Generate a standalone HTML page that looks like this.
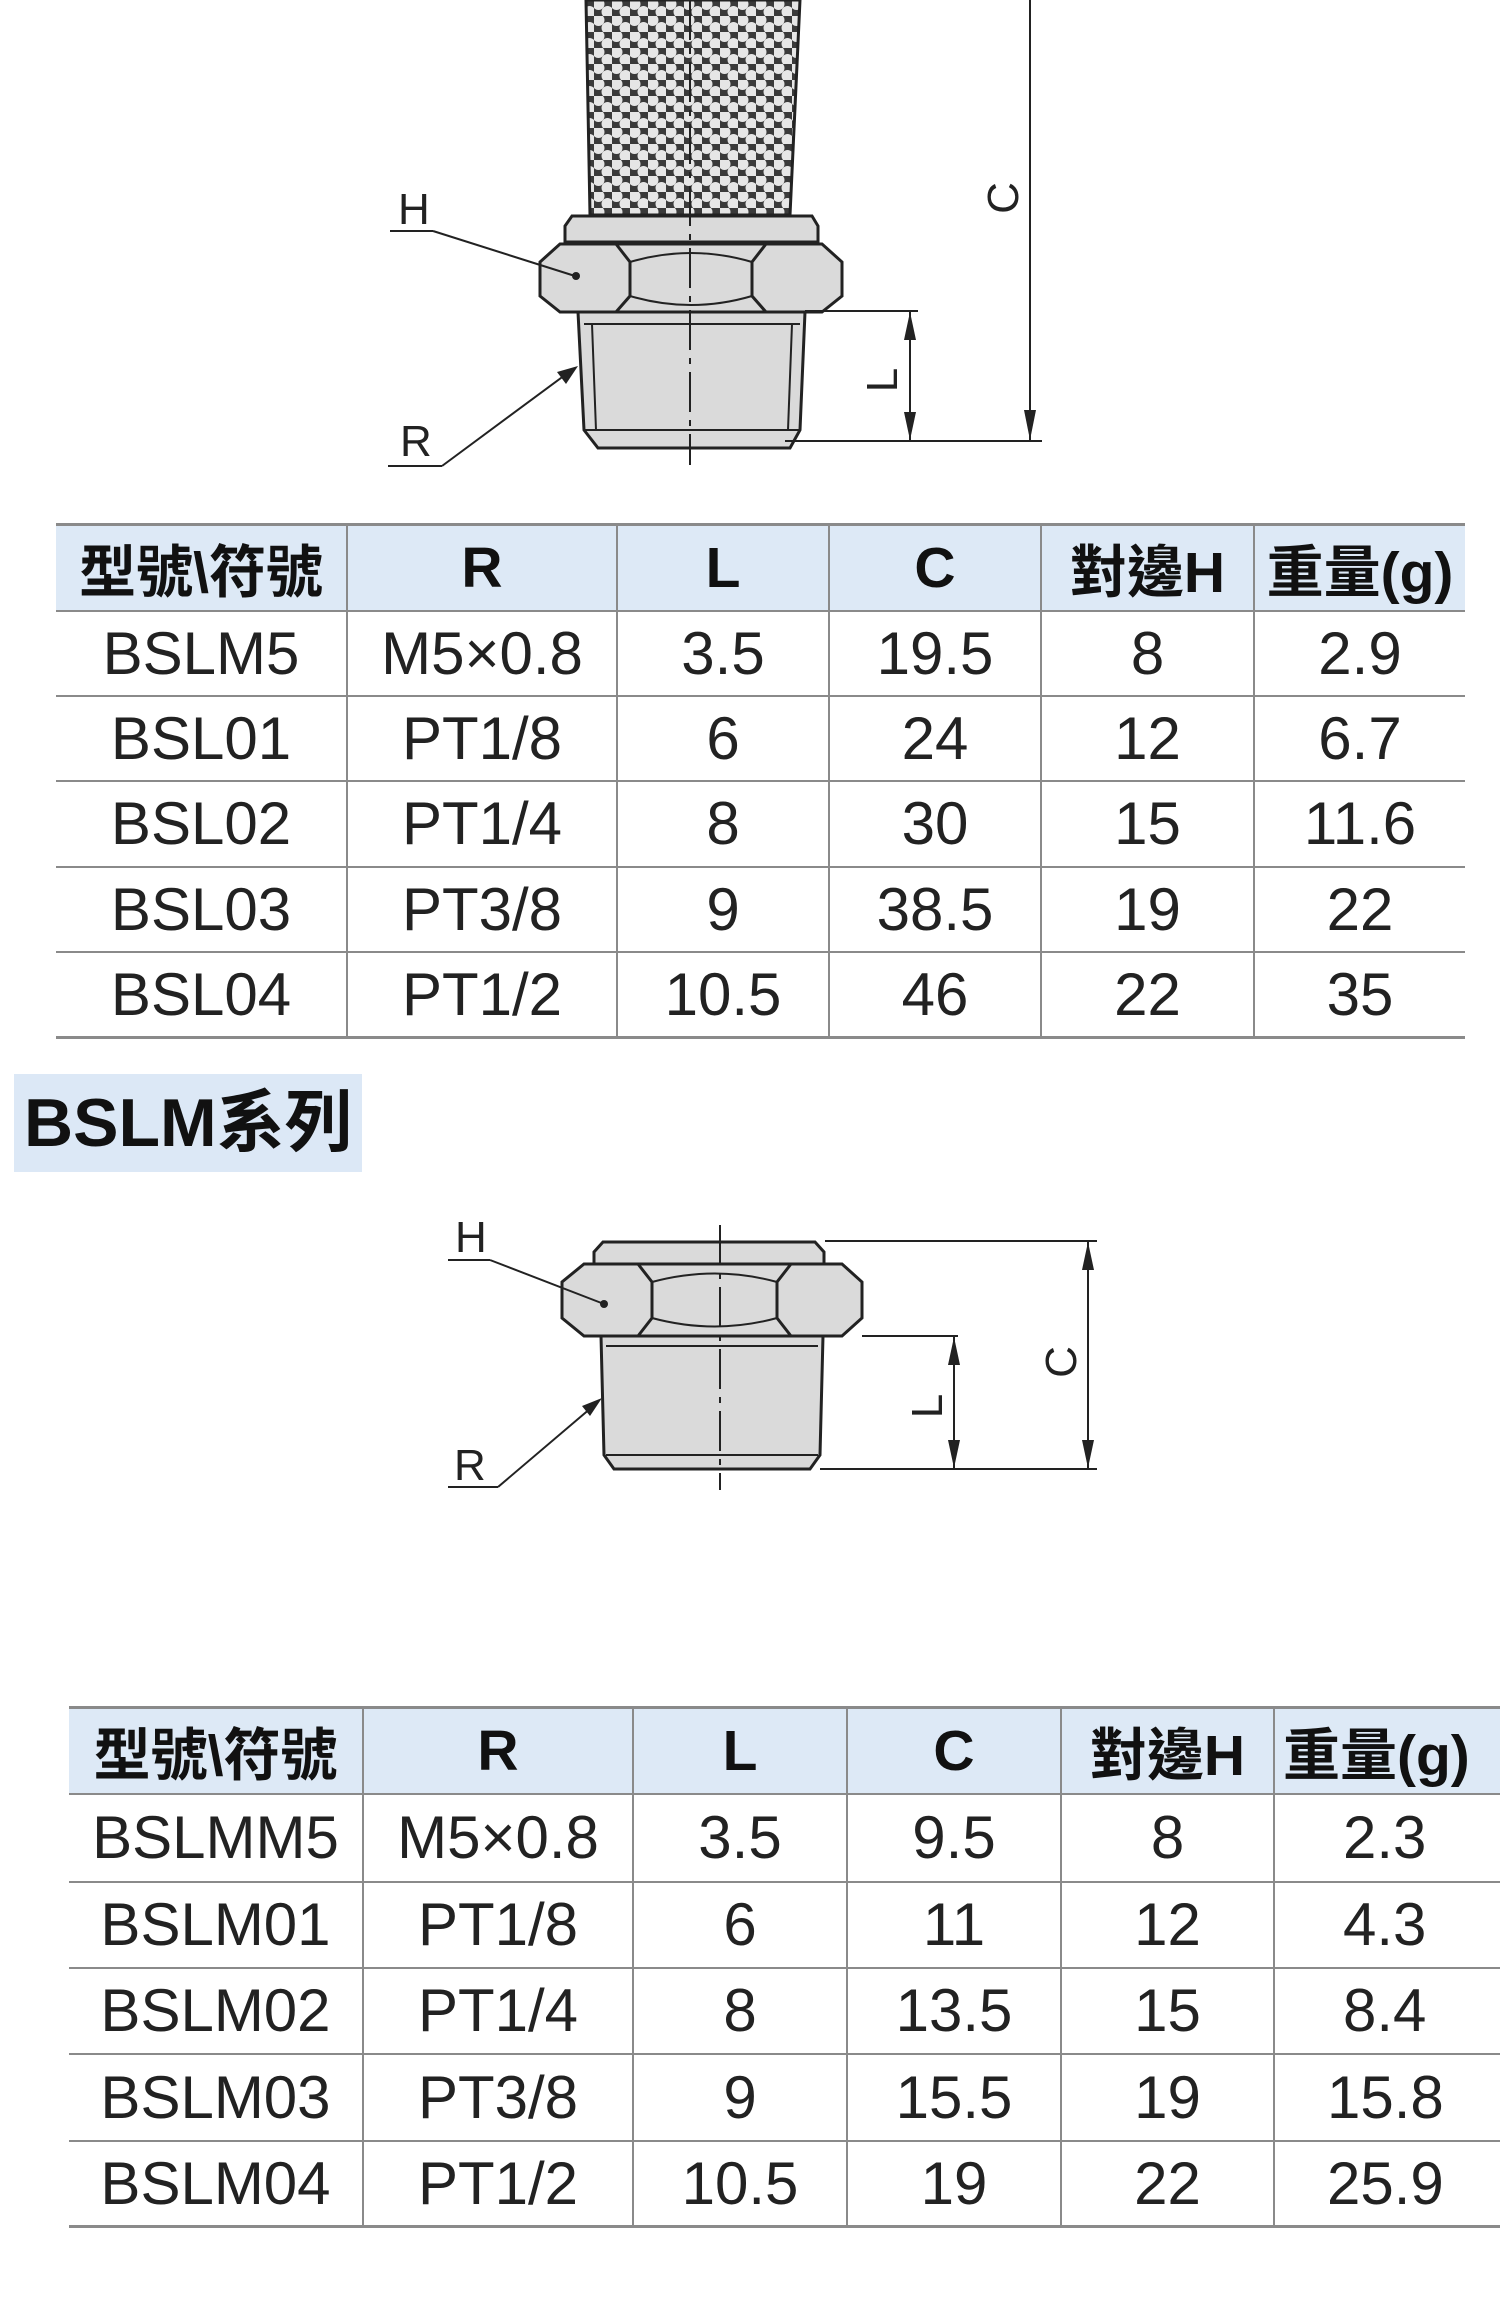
<!DOCTYPE html>
<html><head><meta charset="utf-8">
<style>
html,body{margin:0;padding:0;background:#fff;width:1500px;height:2322px;overflow:hidden;position:relative}
svg{position:absolute;left:0;top:0}
.tbl{position:absolute;border-collapse:collapse;table-layout:fixed;font-family:"Liberation Sans","Noto Sans CJK TC",sans-serif}
.tbl td{border:2px solid #8a8a8a;border-top:none;text-align:center;vertical-align:middle;padding:0;font-size:60px;color:#222;white-space:nowrap;overflow:hidden}
.tbl tr:first-child td{border-top:3px solid #8a8a8a;background:#dde9f6;font-weight:bold;font-size:57px;color:#111}
.tbl td:first-child{border-left:none}
.tbl td:last-child{border-right:none}
.tbl tr:last-child td{border-bottom:3px solid #8a8a8a}
.head{position:absolute;left:14px;top:1074px;width:348px;height:98px;background:#dce8f6;font-family:"Liberation Sans","Noto Sans CJK TC",sans-serif;font-weight:bold;font-size:68px;line-height:98px;color:#111;padding-left:10px;box-sizing:border-box;white-space:nowrap}
</style></head><body>
<svg width="1500" height="2322" viewBox="0 0 1500 2322" xmlns="http://www.w3.org/2000/svg" font-family="Liberation Sans, sans-serif">
<defs>
<pattern id="mesh" width="18" height="16" patternUnits="userSpaceOnUse">
<rect width="18" height="16" fill="#3a3a3a"/>
<circle cx="4.5" cy="4" r="6" fill="#e6e6e6"/>
<circle cx="13.5" cy="12" r="6" fill="#e6e6e6"/>
</pattern>
</defs>
<g stroke="#222" stroke-width="3" fill="#dadada">
<polygon points="586,0 800,0 790,215 590,215" fill="url(#mesh)"/>
<path d="M572,216 L812,216 L818,226 L818,242 L565,242 L565,226 Z"/>
<path d="M560,244 L616,244 L766,244 L822,244 L842,262 L842,296 L822,312 L560,312 L540,296 L540,262 Z"/>
<path d="M616,244 L630,262 L630,296 L616,312 M766,244 L752,262 L752,296 L766,312" fill="none"/>
<path d="M630,262 Q691,244 752,262 M630,296 Q691,314 752,296" fill="none" stroke-width="2"/>
<path d="M578,312 L805,312 L800,430 L790,448 L598,448 L584,430 Z"/>
<path d="M584,324 L800,324 M584,430 L800,430 M592,324 L596,430 M792,324 L788,430" fill="none" stroke-width="2"/>
</g>
<g stroke="#222" stroke-width="2" fill="none">
<line x1="690" y1="0" x2="690" y2="465" stroke-dasharray="40,8,6,8"/>
<line x1="1030" y1="0" x2="1030" y2="440"/>
<line x1="785" y1="441" x2="1042" y2="441"/>
<line x1="805" y1="311" x2="918" y2="311"/>
<line x1="910" y1="312" x2="910" y2="440"/>
<line x1="390" y1="231" x2="433" y2="231"/>
<line x1="433" y1="231" x2="575" y2="276"/>
<line x1="388" y1="466" x2="442" y2="466"/>
<line x1="442" y1="466" x2="565" y2="375"/>
</g>
<g fill="#222">
<polygon points="1030,440 1024,410 1036,410"/>
<polygon points="910,312 904,340 916,340"/>
<polygon points="910,440 904,412 916,412"/>
<polygon points="578,366 557,372 566,384"/>
<circle cx="576" cy="276" r="4"/>
</g>
<g font-size="44" fill="#222">
<text x="398" y="224">H</text>
<text x="400" y="456">R</text>
<text transform="translate(1018,198) rotate(-90)" text-anchor="middle">C</text>
<text transform="translate(897,380) rotate(-90)" text-anchor="middle">L</text>
</g>

<g stroke="#222" stroke-width="3" fill="#dadada">
<path d="M603,1242 L815,1242 L824,1252 L824,1264 L594,1264 L594,1252 Z"/>
<path d="M584,1264 L638,1264 L791,1264 L842,1264 L862,1282 L862,1318 L842,1336 L584,1336 L562,1318 L562,1282 Z"/>
<path d="M638,1264 L652,1282 L652,1318 L638,1336 M791,1264 L777,1282 L777,1318 L791,1336" fill="none"/>
<path d="M652,1282 Q715,1265 777,1282 M652,1318 Q715,1335 777,1318" fill="none" stroke-width="2"/>
<path d="M601,1336 L823,1336 L820,1455 L810,1469 L614,1469 L604,1455 Z"/>
<path d="M606,1346 L818,1346 M606,1455 L818,1455" fill="none" stroke-width="2"/>
</g>
<g stroke="#222" stroke-width="2" fill="none">
<line x1="720" y1="1225" x2="720" y2="1490" stroke-dasharray="40,8,6,8"/>
<line x1="825" y1="1241" x2="1097" y2="1241"/>
<line x1="862" y1="1336" x2="958" y2="1336"/>
<line x1="820" y1="1469" x2="1097" y2="1469"/>
<line x1="1088" y1="1242" x2="1088" y2="1468"/>
<line x1="954" y1="1337" x2="954" y2="1468"/>
<line x1="448" y1="1260" x2="490" y2="1260"/>
<line x1="490" y1="1260" x2="604" y2="1304"/>
<line x1="448" y1="1487" x2="498" y2="1487"/>
<line x1="498" y1="1487" x2="598" y2="1402"/>
</g>
<g fill="#222">
<polygon points="1088,1242 1082,1270 1094,1270"/>
<polygon points="1088,1468 1082,1440 1094,1440"/>
<polygon points="954,1337 948,1365 960,1365"/>
<polygon points="954,1468 948,1440 960,1440"/>
<polygon points="602,1398 582,1406 590,1416"/>
<circle cx="604" cy="1304" r="4"/>
</g>
<g font-size="44" fill="#222">
<text x="455" y="1252">H</text>
<text x="454" y="1480">R</text>
<text transform="translate(1076,1362) rotate(-90)" text-anchor="middle">C</text>
<text transform="translate(942,1406) rotate(-90)" text-anchor="middle">L</text>
</g>
</svg>

<table class="tbl" style="left:56px;top:523px;width:1409px">
<colgroup><col style="width:291px"><col style="width:270px"><col style="width:212px"><col style="width:212px"><col style="width:213px"><col style="width:211px"></colgroup>
<tr style="height:86px"><td>型號\符號</td><td>R</td><td>L</td><td>C</td><td>對邊H</td><td>重量(g)</td></tr>
<tr style="height:85px"><td>BSLM5</td><td>M5×0.8</td><td>3.5</td><td>19.5</td><td>8</td><td>2.9</td></tr>
<tr style="height:85px"><td>BSL01</td><td>PT1/8</td><td>6</td><td>24</td><td>12</td><td>6.7</td></tr>
<tr style="height:86px"><td>BSL02</td><td>PT1/4</td><td>8</td><td>30</td><td>15</td><td>11.6</td></tr>
<tr style="height:85px"><td>BSL03</td><td>PT3/8</td><td>9</td><td>38.5</td><td>19</td><td>22</td></tr>
<tr style="height:86px"><td>BSL04</td><td>PT1/2</td><td>10.5</td><td>46</td><td>22</td><td>35</td></tr>
</table>

<div class="head">BSLM系列</div>

<table class="tbl" style="left:69px;top:1706px;width:1468px">
<colgroup><col style="width:294px"><col style="width:270px"><col style="width:214px"><col style="width:214px"><col style="width:213px"><col style="width:263px"></colgroup>
<tr style="height:86px"><td>型號\符號</td><td>R</td><td>L</td><td>C</td><td>對邊H</td><td style="text-align:left;padding-left:8px">重量(g)</td></tr>
<tr style="height:88px"><td>BSLMM5</td><td>M5×0.8</td><td>3.5</td><td>9.5</td><td>8</td><td style="text-align:left;padding-left:68px">2.3</td></tr>
<tr style="height:86px"><td>BSLM01</td><td>PT1/8</td><td>6</td><td>11</td><td>12</td><td style="text-align:left;padding-left:68px">4.3</td></tr>
<tr style="height:86px"><td>BSLM02</td><td>PT1/4</td><td>8</td><td>13.5</td><td>15</td><td style="text-align:left;padding-left:68px">8.4</td></tr>
<tr style="height:87px"><td>BSLM03</td><td>PT3/8</td><td>9</td><td>15.5</td><td>19</td><td style="text-align:left;padding-left:52px">15.8</td></tr>
<tr style="height:86px"><td>BSLM04</td><td>PT1/2</td><td>10.5</td><td>19</td><td>22</td><td style="text-align:left;padding-left:52px">25.9</td></tr>
</table>
</body></html>
